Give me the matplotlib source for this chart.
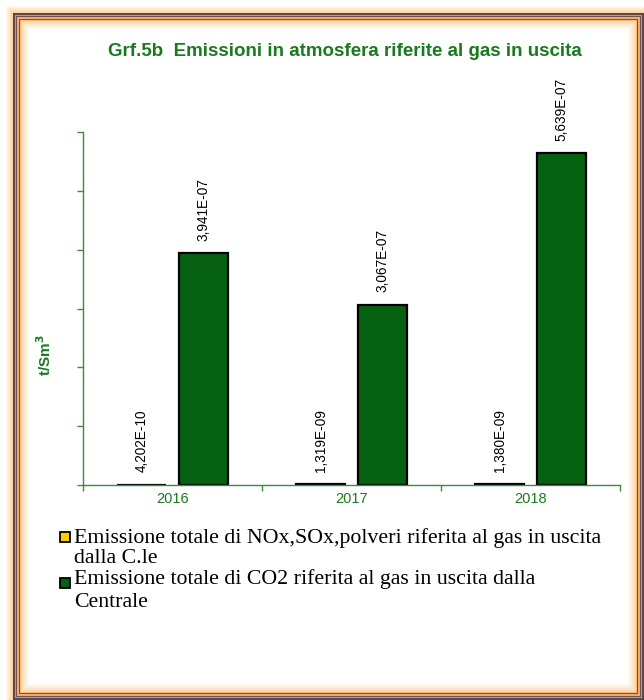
import numpy as np
import matplotlib
matplotlib.use("Agg")
import matplotlib.pyplot as plt
from matplotlib.patches import Rectangle
from matplotlib.colors import to_rgb

years = ["2016", "2017", "2018"]
nox_sox = [4.202e-10, 1.319e-09, 1.380e-09]
co2 = [3.941e-07, 3.067e-07, 5.639e-07]
nox_labels = ["4,202E-10", "1,319E-09", "1,380E-09"]
co2_labels = ["3,941E-07", "3,067E-07", "5,639E-07"]
legend_lines = [["Emissione totale di NOx,SOx,polveri riferita al gas in uscita", "dalla C.le"],
                ["Emissione totale di CO2 riferita al gas in uscita dalla", "Centrale"]]

W, H = 644, 700
green_txt = "#1B7A1F"
axis_green = "#3C8C3C"
bar_green = "#056012"
bar_yellow = "#FFCC00"

fig = plt.figure(figsize=(W / 100, H / 100), dpi=100)
fig.patch.set_facecolor("white")


def box(x0, y0, x1, y1, color, z=0):
    fig.add_artist(Rectangle((x0 / W, 1 - y1 / H), (x1 - x0) / W, (y1 - y0) / H,
                             transform=fig.transFigure, facecolor=color,
                             edgecolor="none", zorder=z))


def mix(c1, c2, t):
    a, b = np.array(to_rgb(c1)), np.array(to_rgb(c2))
    return tuple(a + (b - a) * t)


# decorative frame: outer glow, line band, inner glow
L, T, R, B = 13, 13, 644, 700
for i in range(-7, 0):
    box(L + i, T + i, R - i, B - i, mix("white", "#FCCB8E", (i + 8) / 8), z=-10)
band = ["#5E4650", "#5E4650", "#E39448", "#6E5050",
        "#F2AC66", "#F2AC66", "#7A5240", "#F5B878"]
for i, c in enumerate(band):
    box(L + i, T + i, R - i, B - i, c, z=-10)
n_glow = 9
for j in range(n_glow):
    i = len(band) + j
    box(L + i, T + i, R - i, B - i, mix("#FDD3A0", "white", (j + 1) / n_glow), z=-10)

# bar chart
ax = fig.add_axes([83 / W, 1 - 485 / H, 537 / W, 353 / H])
ax.set_facecolor("none")
x = np.arange(len(years))
off, bw = 0.172, 0.275
ax.bar(x - off, nox_sox, bw, color=bar_yellow, edgecolor="black", linewidth=1.6)
ax.bar(x + off, co2, bw, color=bar_green, edgecolor="black", linewidth=1.6)

for xi, v, s in zip(x - off, nox_sox, nox_labels):
    ax.annotate(s, (xi, v), xytext=(0, 9), textcoords="offset points", rotation=90,
                ha="center", va="bottom", fontsize=9.8, family="Liberation Sans")
for xi, v, s in zip(x + off, co2, co2_labels):
    ax.annotate(s, (xi, v), xytext=(0, 9), textcoords="offset points", rotation=90,
                ha="center", va="bottom", fontsize=9.8, family="Liberation Sans")

ax.set_xlim(-0.5, 2.5)
ax.set_ylim(0, 6e-7)
ax.set_yticks(np.arange(0, 7e-7, 1e-7))
ax.set_yticklabels([])
ax.set_xticks(x)
ax.set_xticklabels(years, color=green_txt, fontsize=10.5, family="Liberation Sans")
ax.set_xticks([-0.5, 0.5, 1.5, 2.5], minor=True)
ax.tick_params(axis="x", which="major", length=0, pad=5)
ax.tick_params(axis="x", which="minor", length=4.5, color=axis_green, width=1)
ax.tick_params(axis="y", length=4.5, color=axis_green, width=1)
for side in ["top", "right"]:
    ax.spines[side].set_visible(False)
for side in ["left", "bottom"]:
    ax.spines[side].set_color(axis_green)
    ax.spines[side].set_linewidth(1)

fig.text(45 / W, 1 - 355 / H, "t/Sm$^\\mathbf{3}$", rotation=90, ha="center", va="center",
         color=green_txt, fontsize=11, fontweight="bold", family="Liberation Sans")

fig.text(345 / W, 1 - 52 / H, "Grf.5b  Emissioni in atmosfera riferite al gas in uscita",
         ha="center", va="center", color=green_txt, fontsize=13.5, fontweight="bold",
         family="Liberation Sans")

# legend
squares_top = [532, 578]
baselines = [[543, 563], [584, 607]]
for lines, col, sq, bl in zip(legend_lines, [bar_yellow, bar_green], squares_top, baselines):
    fig.add_artist(Rectangle((60 / W, 1 - (sq + 10) / H), 10 / W, 10 / H,
                             transform=fig.transFigure, facecolor=col,
                             edgecolor="black", linewidth=1.3))
    for line, yb in zip(lines, bl):
        fig.text(74 / W, 1 - yb / H, line, ha="left", va="baseline", fontsize=15.75,
                 family="Liberation Serif")

fig.savefig("out.png", dpi=100)
